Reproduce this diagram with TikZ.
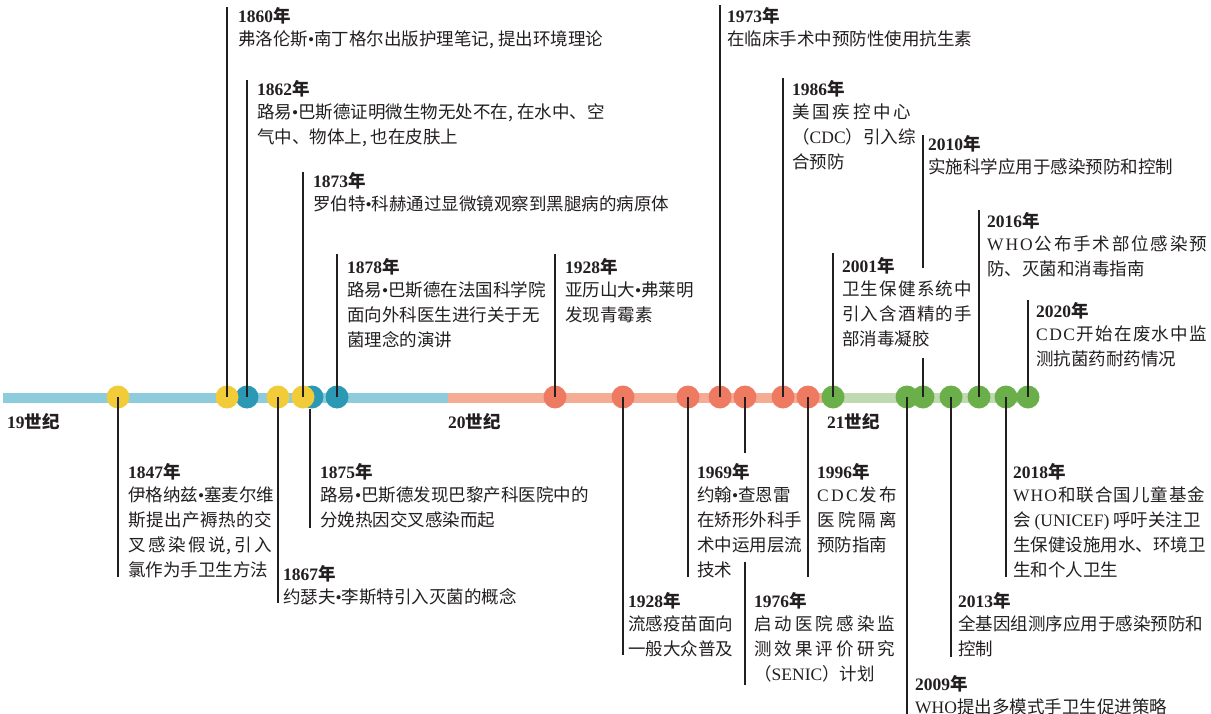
\documentclass[tikz,border=0pt]{standalone}
\usepackage{fontspec}
\setmainfont{Noto Sans CJK SC}
\newfontfamily\latin{Liberation Serif}
\usepackage{tikz}
\usetikzlibrary{positioning}
\definecolor{inkdark}{RGB}{35,31,32}
\definecolor{barblue}{RGB}{141,204,221}
\definecolor{dotblue}{RGB}{43,152,180}
\definecolor{dotyellow}{RGB}{242,203,56}
\definecolor{barsalmon}{RGB}{244,172,149}
\definecolor{dotsalmon}{RGB}{238,123,97}
\definecolor{bargreen}{RGB}{191,218,176}
\definecolor{dotgreen}{RGB}{107,175,75}
\newcommand{\yr}[1]{{\bfseries{\latin #1}年}}
\newcommand{\dotsep}{{\latin •}}
\newcommand{\spreadto}[2]{\makebox[#1][s]{\spaceskip=0pt plus 1fil\relax #2}}
\tikzset{
  evdot/.style={circle, inner sep=0pt, minimum size=23pt},
  evtext/.style={anchor=north west, inner sep=0pt, align=left, text=inkdark,
    font=\fontsize{17.5}{25}\selectfont},
  stem/.style={draw=inkdark, line width=2.4pt},
  century/.style={anchor=west, inner sep=0pt, text=inkdark,
    font=\fontsize{17.5}{21}\selectfont\bfseries},
}

\begin{document}
\begin{tikzpicture}[x=1pt, y=-1pt]
  \useasboundingbox (0,0) rectangle (1211,714);

  % the bar
  \fill[barblue] (3,392.5) rectangle (448,402.5);
  \fill[barsalmon] (448,392.5) rectangle (823,402.5);
  \fill[bargreen] (823,392.5) rectangle (1028,402.5);
  \node[century] (c19) at (7,422) {{\latin 19}世纪};
  \node[century] (c20) at (448,422) {{\latin 20}世纪};
  \node[century] (c21) at (827,422) {{\latin 21}世纪};

  % 19th century
  \node[evdot, fill=dotblue] (d1862) at (247,397) {};
  \node[evdot, fill=dotblue] (d1875) at (312,397) {};
  \node[evdot, fill=dotblue] (d1878) at (337,397) {};
  \node[evdot, fill=dotyellow] (d1847) at (118,397) {};
  \node[evdot, fill=dotyellow] (d1860) at (227,397) {};
  \node[evdot, fill=dotyellow] (d1867) at (278,397) {};
  \node[evdot, fill=dotyellow] (d1873) at (303,397) {};

  \node[evtext] (t1847) at (128,463) {\yr{1847}\\[-2pt]
    伊格纳兹\dotsep 塞麦尔维\\
    \spreadto{144pt}{斯 提 出 产 褥 热 的 交}\\
    \spreadto{144pt}{叉 感 染 假 说, 引 入}\\
    氯作为手卫生方法};
  \node[evtext] (t1860) at (238,7) {\yr{1860}\\[-2pt]
    弗洛伦斯\dotsep 南丁格尔出版护理笔记, 提出环境理论};
  \node[evtext] (t1862) at (257,80) {\yr{1862}\\[-2pt]
    路易\dotsep 巴斯德证明微生物无处不在, 在水中、空\\
    气中、物体上, 也在皮肤上};
  \node[evtext] (t1867) at (283,565) {\yr{1867}\\[-2pt]
    约瑟夫\dotsep 李斯特引入灭菌的概念};
  \node[evtext] (t1873) at (313,172) {\yr{1873}\\[-2pt]
    罗伯特\dotsep 科赫通过显微镜观察到黑腿病的病原体};
  \node[evtext] (t1875) at (320,463) {\yr{1875}\\[-2pt]
    路易\dotsep 巴斯德发现巴黎产科医院中的\\
    分娩热因交叉感染而起};
  \node[evtext] (t1878) at (347,258) {\yr{1878}\\[-2pt]
    路易\dotsep 巴斯德在法国科学院\\
    面向外科医生进行关于无\\
    菌理念的演讲};

  \coordinate (e1847) at (118,577);
  \coordinate (e1867) at (278,603);
  \coordinate (e1875) at (310,528);
  \draw[stem] (d1847.center) -- (e1847);
  \draw[stem] (d1860.center) -- (d1860.center |- t1860.north);
  \draw[stem] (d1862.center) -- (d1862.center |- t1862.north);
  \draw[stem] (d1867.center) -- (e1867);
  \draw[stem] (d1873.center) -- (d1873.center |- t1873.north);
  \draw[stem] (e1875 |- d1875.south) -- (e1875);
  \draw[stem] (d1878.center) -- ([yshift=4pt]d1878.center |- t1878.north);

  % 20th century
  \node[evdot, fill=dotsalmon] (d1928a) at (555,397) {};
  \node[evdot, fill=dotsalmon] (d1928b) at (623,397) {};
  \node[evdot, fill=dotsalmon] (d1969) at (688,397) {};
  \node[evdot, fill=dotsalmon] (d1973) at (720,397) {};
  \node[evdot, fill=dotsalmon] (d1976) at (745,397) {};
  \node[evdot, fill=dotsalmon] (d1986) at (783,397) {};
  \node[evdot, fill=dotsalmon] (d1996) at (808,397) {};

  \node[evtext] (t1928a) at (565,258) {\yr{1928}\\[-2pt]
    亚历山大\dotsep 弗莱明\\
    发现青霉素};
  \node[evtext] (t1928b) at (628,592) {\yr{1928}\\[-2pt]
    流感疫苗面向\\
    一般大众普及};
  \node[evtext] (t1969) at (697,463) {\yr{1969}\\[-2pt]
    约翰\dotsep 查恩雷\\
    在矫形外科手\\
    术中运用层流\\
    技术};
  \node[evtext] (t1973) at (727,7) {\yr{1973}\\[-2pt]
    在临床手术中预防性使用抗生素};
  \node[evtext] (t1976) at (754,592) {\yr{1976}\\[-2pt]
    \spreadto{141pt}{启 动 医 院 感 染 监}\\
    \spreadto{141pt}{测 效 果 评 价 研 究}\\
    （{\latin SENIC}）计划};
  \node[evtext] (t1986) at (792,80) {\yr{1986}\\[-2pt]
    \spreadto{119pt}{美 国 疾 控 中 心}\\
    （{\latin CDC}）引入综\\
    合预防};
  \node[evtext] (t1996) at (817,463) {\yr{1996}\\[-2pt]
    \spreadto{80pt}{{\latin C D C} 发 布}\\
    \spreadto{80pt}{医 院 隔 离}\\
    预防指南};

  \coordinate (e1928b) at (623,655);
  \coordinate (e1969) at (688,577);
  \coordinate (g1976a) at (745,453);
  \coordinate (g1976b) at (745,562);
  \coordinate (e1976) at (745,685);
  \coordinate (e1996) at (808,577);
  \draw[stem] (d1928a.center) -- ([yshift=4pt]d1928a.center |- t1928a.north);
  \draw[stem] (d1928b.center) -- (e1928b);
  \draw[stem] (d1969.center) -- (e1969);
  \draw[stem] (d1973.center) -- ([yshift=2pt]d1973.center |- t1973.north);
  \draw[stem] (d1976.center) -- (g1976a);
  \draw[stem] (g1976b) -- (e1976);
  \draw[stem] (d1986.center) -- ([yshift=2pt]d1986.center |- t1986.north);
  \draw[stem] (d1996.center) -- (e1996);

  % 21st century
  \node[evdot, fill=dotgreen] (d2001) at (833,397) {};
  \node[evdot, fill=dotgreen] (d2009) at (907,397) {};
  \node[evdot, fill=dotgreen] (d2010) at (923,397) {};
  \node[evdot, fill=dotgreen] (d2013) at (951,397) {};
  \node[evdot, fill=dotgreen] (d2016) at (979,397) {};
  \node[evdot, fill=dotgreen] (d2018) at (1006,397) {};
  \node[evdot, fill=dotgreen] (d2020) at (1028,397) {};

  \node[evtext] (t2001) at (842,257) {\yr{2001}\\[-2pt]
    \spreadto{130pt}{卫 生 保 健 系 统 中}\\
    \spreadto{130pt}{引 入 含 酒 精 的 手}\\
    部消毒凝胶};
  \node[evtext] (t2009) at (915,675) {\yr{2009}\\[-2pt]
    {\latin WHO}提出多模式手卫生促进策略};
  \node[evtext] (t2010) at (928,135) {\yr{2010}\\[-2pt]
    实施科学应用于感染预防和控制};
  \node[evtext] (t2013) at (958,592) {\yr{2013}\\[-2pt]
    全基因组测序应用于感染预防和\\
    控制};
  \node[evtext] (t2016) at (987,212) {\yr{2016}\\[-2pt]
    \spreadto{220pt}{{\latin W H O} 公 布 手 术 部 位 感 染 预}\\
    防、灭菌和消毒指南};
  \node[evtext] (t2018) at (1013,463) {\yr{2018}\\[-2pt]
    \spreadto{192pt}{{\latin W H O} 和 联 合 国 儿 童 基 金}\\
    会 {\latin (UNICEF)} 呼吁关注卫\\
    生保健设施用水、环境卫\\
    生和个人卫生};
  \node[evtext] (t2020) at (1036,302) {\yr{2020}\\[-2pt]
    \spreadto{171pt}{{\latin C D C} 开 始 在 废 水 中 监}\\
    测抗菌药耐药情况};

  \coordinate (g2010a) at (923,358);
  \coordinate (g2010b) at (923,268);
  \coordinate (e2009) at (907,714);
  \coordinate (e2013) at (951,657);
  \coordinate (e2018) at (1006,577);
  \draw[stem] (d2001.center) -- ([yshift=4pt]d2001.center |- t2001.north);
  \draw[stem] (d2009.center) -- (e2009);
  \draw[stem] (d2010.center) -- (g2010a);
  \draw[stem] (g2010b) -- (g2010b |- t2010.north);
  \draw[stem] (d2013.center) -- (e2013);
  \draw[stem] (d2016.center) -- ([yshift=2pt]d2016.center |- t2016.north);
  \draw[stem] (d2018.center) -- (e2018);
  \draw[stem] (d2020.center) -- ([yshift=2pt]d2020.center |- t2020.north);
\end{tikzpicture}
\end{document}
